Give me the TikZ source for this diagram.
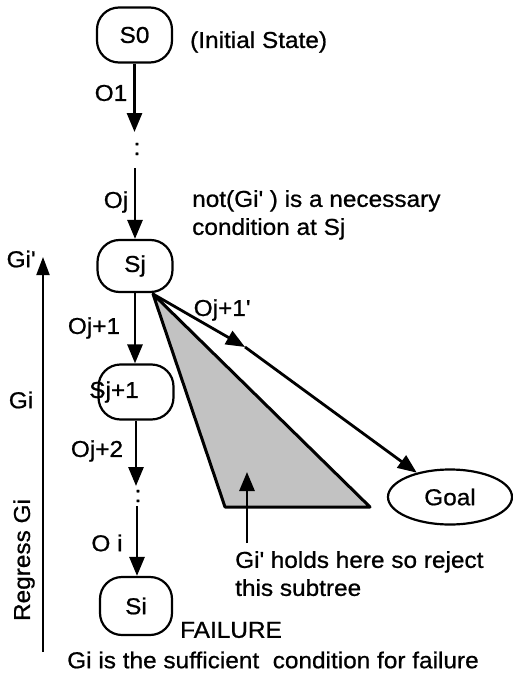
\documentclass[tikz,border=0pt]{standalone}
\usepackage{fontspec}
\setmainfont{Liberation Sans}[FakeBold=0.8, FakeStretch=1.06]
\usetikzlibrary{arrows.meta,shapes.geometric}
\newcommand{\qq}{\textquotesingle}
\begin{document}
\begin{tikzpicture}[x=1pt,y=1pt,
  font=\fontsize{23}{28}\selectfont,
  state/.style={draw, line width=2.2pt, rounded corners=22pt, minimum width=75pt, minimum height=55pt, inner sep=0pt},
  arr/.style={line width=2.8pt, -{Triangle[length=19pt,width=15pt]}},
  thinarr/.style={line width=2pt, -{Triangle[length=18pt,width=13pt]}},
  lbl/.style={inner sep=0pt},
]
\useasboundingbox (0,0) rectangle (512,-677);

% states
\node[state] (s0) at (134.5,-35) {S0};
\node[lbl] (dots1) at (137,-149) {:};
\node[state, minimum height=52pt] (sj) at (135,-266) {Sj};
\node[state] (sj1) at (136,-392) {\hspace*{-22pt}Sj+1\hspace*{22pt}};
\node[lbl] (dots2) at (138,-496) {:};
\node[state, minimum width=72pt, minimum height=58pt] (si) at (136,-606) {Si};
\node[draw, ellipse, line width=2.2pt, minimum width=124pt, minimum height=55pt, inner sep=0pt] (goal) at (450,-497) {Goal};

% free ends
\coordinate (a1e) at (134.5,-132);
\coordinate (a2s) at (135,-168);
\coordinate (a4e) at (137,-486);
\coordinate (a5s) at (137,-506);
\coordinate (rb) at (43,-652);
\coordinate (rt) at (43,-257);
\coordinate (apex) at (153,-294);
\coordinate (tl) at (225,-507);
\coordinate (tr) at (370,-507);
\coordinate (mid) at (245,-347);
\coordinate (hb) at (247,-543);
\coordinate (ht) at (247,-472);

% shaded subtree
\filldraw[fill=black!24, line width=3pt, line join=round] (apex) -- (tl) -- (tr) -- cycle;

% arrows
\draw[arr] (s0) -- (a1e);
\draw[arr] (a2s) -- (sj);
\draw[arr] (sj.south) -- (sj.south |- sj1.north);
\draw[arr] (sj1.south) -- (sj1.south |- a4e);
\draw[arr] (a5s) -- (a5s |- si.north);
\draw[thinarr] (rb) -- (rt);
\draw[arr] (apex) -- (mid);
\draw[arr] (mid) -- (goal);
\draw[arr] (hb) -- (ht);

% labels
\node[lbl] (o1) at (111,-93) {O1};
\node[lbl] (oj) at (116,-202) {Oj};
\node[lbl, anchor=west] (init) at (190,-42) {(Initial State)};
\node[lbl, anchor=north west, align=left] (notgi) at (192,-190) {not(Gi\qq\ ) is a necessary\\condition at Sj};
\node[lbl] (gip) at (21,-259) {Gi\qq};
\node[lbl] (oj1) at (94,-328) {Oj+1};
\node[lbl] (oj1p) at (222,-310) {Oj+1\qq};
\node[lbl] (gi) at (21,-400) {Gi};
\node[lbl] (oj2) at (97,-451) {Oj+2};
\node[lbl] (oi) at (107,-543) {O i};
\node[lbl, rotate=90] (regress) at (24,-560) {Regress Gi};
\node[lbl] (fail) at (231,-630) {FAILURE};
\node[lbl] (suff) at (273,-660) {Gi is the sufficient \ condition for failure};
\node[lbl, anchor=north west, align=left] (holds) at (235,-551) {Gi\qq\ holds here so reject\\this subtree};
\end{tikzpicture}
\end{document}
